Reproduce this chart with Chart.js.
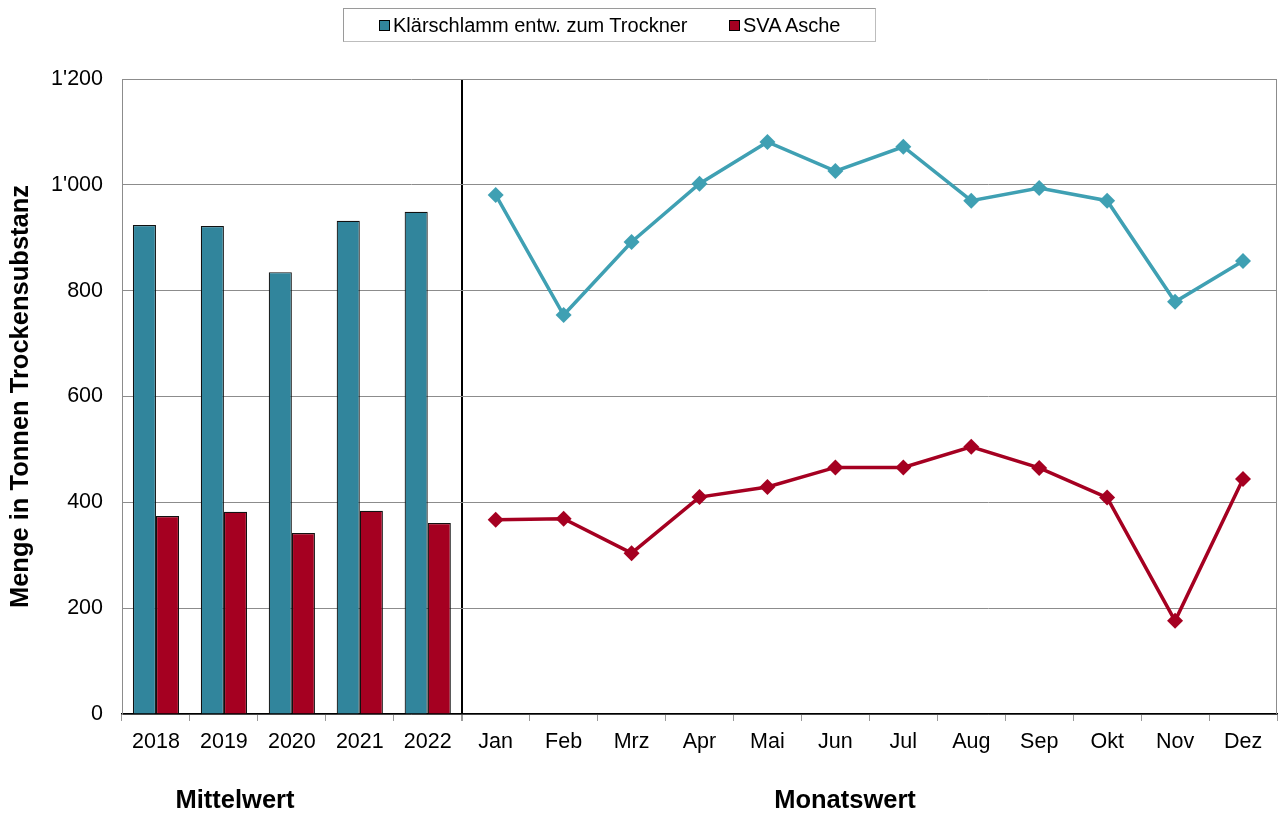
<!DOCTYPE html>
<html>
<head>
<meta charset="utf-8">
<script src="https://cdn.jsdelivr.net/npm/chart.js@4/dist/chart.umd.min.js"></script>
<style>
  html, body { margin: 0; padding: 0; background: #fff; overflow: hidden; }
  #wrap { position: relative; width: 1281px; height: 814px; }
  canvas { display: block; }
  #legend { position: absolute; left: 343px; top: 8px; width: 531px; height: 32px;
            border: 1px solid #9a9a9a; border-bottom-color: #bdbdbd; border-right-color: #bdbdbd;
            font-family: "Liberation Sans", Arial, sans-serif; font-size: 20px; color: #000; }
  .item { position: absolute; top: 0; height: 32px; line-height: 32px; white-space: nowrap; }
  .sw { display: inline-block; width: 9px; height: 9px; border: 1px solid #000; margin-right: 3px; vertical-align: 1px; }
</style>
</head>
<body>
<div id="wrap">
  <canvas id="c" width="1281" height="814"></canvas>
  <div id="legend"></div>
</div>
<script>
const years = ['2018', '2019', '2020', '2021', '2022'];
const months = ['Jan', 'Feb', 'Mrz', 'Apr', 'Mai', 'Jun', 'Jul', 'Aug', 'Sep', 'Okt', 'Nov', 'Dez'];
const seriesNames = ['Klärschlamm entw. zum Trockner', 'SVA Asche'];
const klaerschlammMittel = [924, 922, 835, 932, 949];
const svaAscheMittel = [374, 382, 342, 384, 361];
const klaerschlammMonat = [981, 754, 892, 1002, 1081, 1026, 1072, 970, 994, 970, 779, 856];
const svaAscheMonat = [367, 369, 304, 410, 429, 466, 466, 505, 465, 409, 176, 444];
const yTicks = [0, 200, 400, 600, 800, 1000, 1200];

const labels = years.concat(months);
const padBars = arr => arr.concat(months.map(() => null));
const padLine = arr => years.map(() => null).concat(arr);

const teal = '#31859C', red = '#A50021', tealLine = '#3FA0B3';

const FONT = '"Liberation Sans", Arial, sans-serif';

const extras = {
  id: 'extras',
  afterDraw(chart) {
    const ctx = chart.ctx, a = chart.chartArea;
    ctx.save();
    ctx.strokeStyle = '#8c8c8c';
    ctx.lineWidth = 1;
    ctx.beginPath();
    ctx.moveTo(Math.round(a.right) - 0.5, a.top);
    ctx.lineTo(Math.round(a.right) - 0.5, a.bottom);
    ctx.stroke();
    ctx.fillStyle = '#000';
    ctx.font = 'bold 25.5px ' + FONT;
    ctx.textAlign = 'center';
    ctx.textBaseline = 'middle';
    ctx.fillText('Mittelwert', 235, 801);
    ctx.fillText('Monatswert', 845, 801);
    ctx.restore();
  }
};

const chart = new Chart(document.getElementById('c'), {
  data: {
    labels: labels,
    datasets: [
      { type: 'bar', label: seriesNames[0], data: padBars(klaerschlammMittel), backgroundColor: teal,
        borderColor: '#111', borderWidth: 1.2, categoryPercentage: 0.68, barPercentage: 1.0, order: 2 },
      { type: 'bar', label: seriesNames[1], data: padBars(svaAscheMittel), backgroundColor: red,
        borderColor: '#111', borderWidth: 1.2, categoryPercentage: 0.68, barPercentage: 1.0, order: 2 },
      { type: 'line', label: seriesNames[0], data: padLine(klaerschlammMonat), borderColor: tealLine,
        backgroundColor: tealLine, borderWidth: 3.5, pointStyle: 'rectRot', pointRadius: 8,
        pointBorderWidth: 0, spanGaps: false, tension: 0, order: 1 },
      { type: 'line', label: seriesNames[1], data: padLine(svaAscheMonat), borderColor: red,
        backgroundColor: red, borderWidth: 3.5, pointStyle: 'rectRot', pointRadius: 8,
        pointBorderWidth: 0, spanGaps: false, tension: 0, order: 1 }
    ]
  },
  options: {
    responsive: false,
    animation: false,
    layout: { autoPadding: false, padding: { top: 79, left: 6, right: 4, bottom: 0 } },
    plugins: { legend: { display: false }, tooltip: { enabled: false } },
    scales: {
      x: {
        type: 'category',
        offset: true,
        grid: {
          offset: true,
          drawOnChartArea: true,
          color: c => (c.index === 5 ? '#000' : 'rgba(0,0,0,0)'),
          lineWidth: c => (c.index === 5 ? 2 : 1),
          tickColor: '#9a9a9a',
          tickLength: 7
        },
        border: { color: '#000', width: 1.5 },
        ticks: { color: '#000', font: { family: FONT, size: 21.5 }, padding: 8, maxRotation: 0, autoSkip: false },
        afterFit: s => { s.height = 100; s.paddingRight = 0; s.paddingLeft = 0; }
      },
      y: {
        min: 0, max: 1200,
        afterBuildTicks: s => { s.ticks = yTicks.map(v => ({ value: v })); },
        grid: { color: '#8c8c8c', lineWidth: 1, drawTicks: false },
        border: { color: '#8c8c8c', width: 1 },
        ticks: {
          color: '#000', font: { family: FONT, size: 21.5 }, padding: 19,
          callback: v => String(v).replace(/\B(?=(\d{3})+(?!\d))/g, "'")
        },
        title: { display: true, text: 'Menge in Tonnen Trockensubstanz', color: '#000',
                 font: { family: FONT, size: 25.5, weight: 'bold' }, padding: { top: 0, bottom: 0 } },
        afterFit: s => { s.width = 116; }
      }
    }
  },
  plugins: [extras]
});

// HTML legend built from the chart's bar datasets
const legendEl = document.getElementById('legend');
const legendX = [35, 385];
chart.data.datasets.filter(d => d.type === 'bar').forEach((d, i) => {
  const it = document.createElement('div');
  it.className = 'item';
  it.style.left = legendX[i] + 'px';
  const sw = document.createElement('span');
  sw.className = 'sw';
  sw.style.background = d.backgroundColor;
  it.appendChild(sw);
  it.appendChild(document.createTextNode(d.label));
  legendEl.appendChild(it);
});
</script>
</body>
</html>
